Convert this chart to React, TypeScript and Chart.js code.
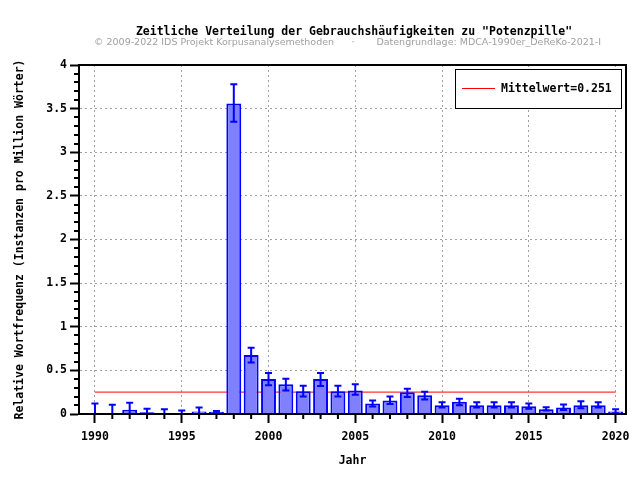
import React, { useEffect, useRef } from "react";
import { Chart, registerables } from "chart.js";

Chart.register(...registerables);

const TITLE = 'Zeitliche Verteilung der Gebrauchshäufigkeiten zu "Potenzpille"';
const SUB_LEFT = "© 2009-2022 IDS Projekt Korpusanalysemethoden";
const SUB_DOT = "·";
const SUB_RIGHT = "Datengrundlage: MDCA-1990er_DeReKo-2021-I";
const X_TITLE = "Jahr";
const Y_TITLE = "Relative Wortfrequenz (Instanzen pro Million Wörter)";
const LEGEND_LABEL = "Mittelwert=0.251";
const MEAN = 0.251;

const years = [
  1990, 1991, 1992, 1993, 1994, 1995, 1996, 1997, 1998, 1999,
  2000, 2001, 2002, 2003, 2004, 2005, 2006, 2007, 2008, 2009,
  2010, 2011, 2012, 2013, 2014, 2015, 2016, 2017, 2018, 2019, 2020,
];
const values = [
  0, 0, 0.05, 0.02, 0, 0, 0.03, 0.025, 3.56, 0.675,
  0.4, 0.34, 0.26, 0.4, 0.26, 0.27, 0.12, 0.155, 0.25, 0.215,
  0.1, 0.14, 0.1, 0.1, 0.1, 0.09, 0.055, 0.075, 0.1, 0.1, 0.03,
];
const errLow = [
  0, 0, 0, 0, 0, 0, 0, 0.01, 3.35, 0.59,
  0.33, 0.27, 0.2, 0.32, 0.2, 0.22, 0.085, 0.115, 0.195, 0.165,
  0.075, 0.1, 0.075, 0.075, 0.075, 0.06, 0.04, 0.045, 0.065, 0.075, 0.01,
];
const errHigh = [
  0.12, 0.105, 0.13, 0.06, 0.055, 0.04, 0.075, 0.035, 3.78, 0.76,
  0.47, 0.405, 0.325, 0.47, 0.325, 0.34, 0.155, 0.2, 0.29, 0.255,
  0.135, 0.175, 0.135, 0.135, 0.135, 0.12, 0.077, 0.11, 0.145, 0.135, 0.055,
];

const X_MIN = 1989.08;
const X_MAX = 2020.6;
const Y_MIN = 0;
const Y_MAX = 4;

const MONO = '"DejaVu Sans Mono", monospace';
const SANS = '"DejaVu Sans", sans-serif';

const decor = {
  id: "decor",
  beforeDraw(chart: any) {
    const { ctx, width, height } = chart;
    ctx.save();
    ctx.fillStyle = "#ffffff";
    ctx.fillRect(0, 0, width, height);
    ctx.restore();
  },
  afterDatasetsDraw(chart: any) {
    const { ctx } = chart;
    const x = chart.scales.x;
    const y = chart.scales.y;
    ctx.save();
    ctx.strokeStyle = "#0000ff";
    ctx.lineWidth = 2;
    years.forEach((yr, i) => {
      const px = x.getPixelForValue(yr);
      const top = y.getPixelForValue(errHigh[i]);
      const bot = y.getPixelForValue(errLow[i]);
      ctx.beginPath();
      ctx.moveTo(px, top);
      ctx.lineTo(px, bot);
      ctx.moveTo(px - 3.5, top);
      ctx.lineTo(px + 3.5, top);
      ctx.moveTo(px - 3.5, bot);
      ctx.lineTo(px + 3.5, bot);
      ctx.stroke();
    });
    ctx.restore();
  },
  afterDraw(chart: any) {
    const { ctx, chartArea } = chart;
    const x = chart.scales.x;
    const y = chart.scales.y;
    ctx.save();
    // frame top / right
    ctx.strokeStyle = "#000";
    ctx.lineWidth = 2;
    ctx.beginPath();
    ctx.moveTo(chartArea.left - 1, chartArea.top);
    ctx.lineTo(chartArea.right, chartArea.top);
    ctx.lineTo(chartArea.right, chartArea.bottom + 1);
    ctx.stroke();
    // minor ticks
    ctx.beginPath();
    years.forEach((yr) => {
      if (yr % 5 !== 0) {
        const px = x.getPixelForValue(yr);
        ctx.moveTo(px, chartArea.bottom);
        ctx.lineTo(px, chartArea.bottom + 5);
      }
    });
    for (let k = 1; k < 40; k++) {
      if (k % 5 === 0) continue;
      const py = Math.round(y.getPixelForValue(k / 10));
      ctx.moveTo(chartArea.left, py);
      ctx.lineTo(chartArea.left - 5, py);
    }
    ctx.stroke();
    // legend box
    ctx.fillStyle = "#fff";
    ctx.fillRect(455.5, 69.5, 166, 39);
    ctx.lineWidth = 1;
    ctx.strokeStyle = "#000";
    ctx.strokeRect(455.5, 69.5, 166, 39);
    ctx.strokeStyle = "#ff0000";
    ctx.beginPath();
    ctx.moveTo(462, 88.5);
    ctx.lineTo(495, 88.5);
    ctx.stroke();
    ctx.fillStyle = "#000";
    ctx.font = `bold 11.5px ${MONO}`;
    ctx.textBaseline = "middle";
    ctx.textAlign = "left";
    ctx.fillText(LEGEND_LABEL, 501, 89);
    // title + subtitle
    ctx.textAlign = "center";
    ctx.fillText(TITLE, 354, 32);
    ctx.fillStyle = "#a0a0a0";
    ctx.font = `9.5px ${SANS}`;
    ctx.textAlign = "left";
    ctx.fillText(SUB_LEFT, 94, 42.5);
    ctx.textAlign = "center";
    ctx.fillText(SUB_DOT, 353, 42.5);
    ctx.textAlign = "right";
    ctx.fillText(SUB_RIGHT, 601, 42.5);
    ctx.restore();
  },
};

export default function App() {
  const canvasRef = useRef<HTMLCanvasElement | null>(null);

  useEffect(() => {
    const canvas = canvasRef.current;
    if (!canvas) return;
    const barData = years.map((yr, i) => ({ x: yr, y: values[i] }));
    const meanData = [
      { x: years[0], y: MEAN },
      { x: years[years.length - 1], y: MEAN },
    ];
    const chart = new Chart(canvas, {
      type: "bar",
      data: {
        datasets: [
          {
            type: "bar",
            label: "Relative Wortfrequenz",
            data: barData as any,
            backgroundColor: "#8080ff",
            borderColor: "#0000ff",
            borderWidth: 2,
            barPercentage: 0.86,
            categoryPercentage: 1,
            order: 1,
          },
          {
            type: "line",
            label: LEGEND_LABEL,
            data: meanData as any,
            borderColor: "#ff0000",
            borderWidth: 1,
            pointRadius: 0,
            fill: false,
            order: 2,
          } as any,
        ],
      },
      options: {
        animation: false,
        responsive: false,
        maintainAspectRatio: false,
        layout: { padding: { top: 65, right: 14, bottom: 0, left: 0 } },
        plugins: {
          legend: { display: false },
          title: { display: false },
          tooltip: { enabled: false },
        },
        scales: {
          x: {
            type: "linear",
            min: X_MIN,
            max: X_MAX,
            offset: false,
            afterFit: (s: any) => {
              s.height = 66;
            },
            grid: {
              offset: false,
              color: "#a0a0a0",
              lineWidth: 1,
              drawTicks: true,
              tickLength: 9,
              tickWidth: 2,
              tickColor: "#000",
              tickBorderDash: [],
            },
            border: { display: true, color: "#000", width: 2, dash: [2, 3], z: 1 },
            ticks: {
              stepSize: 5,
              includeBounds: false,
              autoSkip: false,
              maxRotation: 0,
              padding: 7,
              color: "#000",
              font: { family: MONO, size: 11.5, weight: "bold" },
              callback: (v: any) => String(v),
            },
            title: {
              display: true,
              text: X_TITLE,
              color: "#000",
              font: { family: MONO, size: 11.5, weight: "bold" },
              padding: { top: 0, bottom: 12 },
            },
          },
          y: {
            type: "linear",
            min: Y_MIN,
            max: Y_MAX,
            afterFit: (s: any) => {
              s.width = 79;
            },
            grid: {
              color: "#a0a0a0",
              lineWidth: 1,
              drawTicks: true,
              tickLength: 9,
              tickWidth: 2,
              tickColor: "#000",
              tickBorderDash: [],
            },
            border: { display: true, color: "#000", width: 2, dash: [2, 3], z: 1 },
            ticks: {
              stepSize: 0.5,
              includeBounds: false,
              padding: 3,
              color: "#000",
              font: { family: MONO, size: 11.5, weight: "bold" },
              callback: (v: any) => String(v),
            },
            title: {
              display: true,
              text: Y_TITLE,
              color: "#000",
              font: { family: MONO, size: 11.5, weight: "bold" },
              padding: { top: 13, bottom: 0 },
            },
          },
        },
      } as any,
      plugins: [decor],
    });
    return () => chart.destroy();
  }, []);

  return (
    <div style={{ position: "fixed", left: 0, top: 0, width: 640, height: 480, background: "#fff" }}>
      <canvas ref={canvasRef} width={640} height={480} style={{ width: 640, height: 480 }} />
    </div>
  );
}
